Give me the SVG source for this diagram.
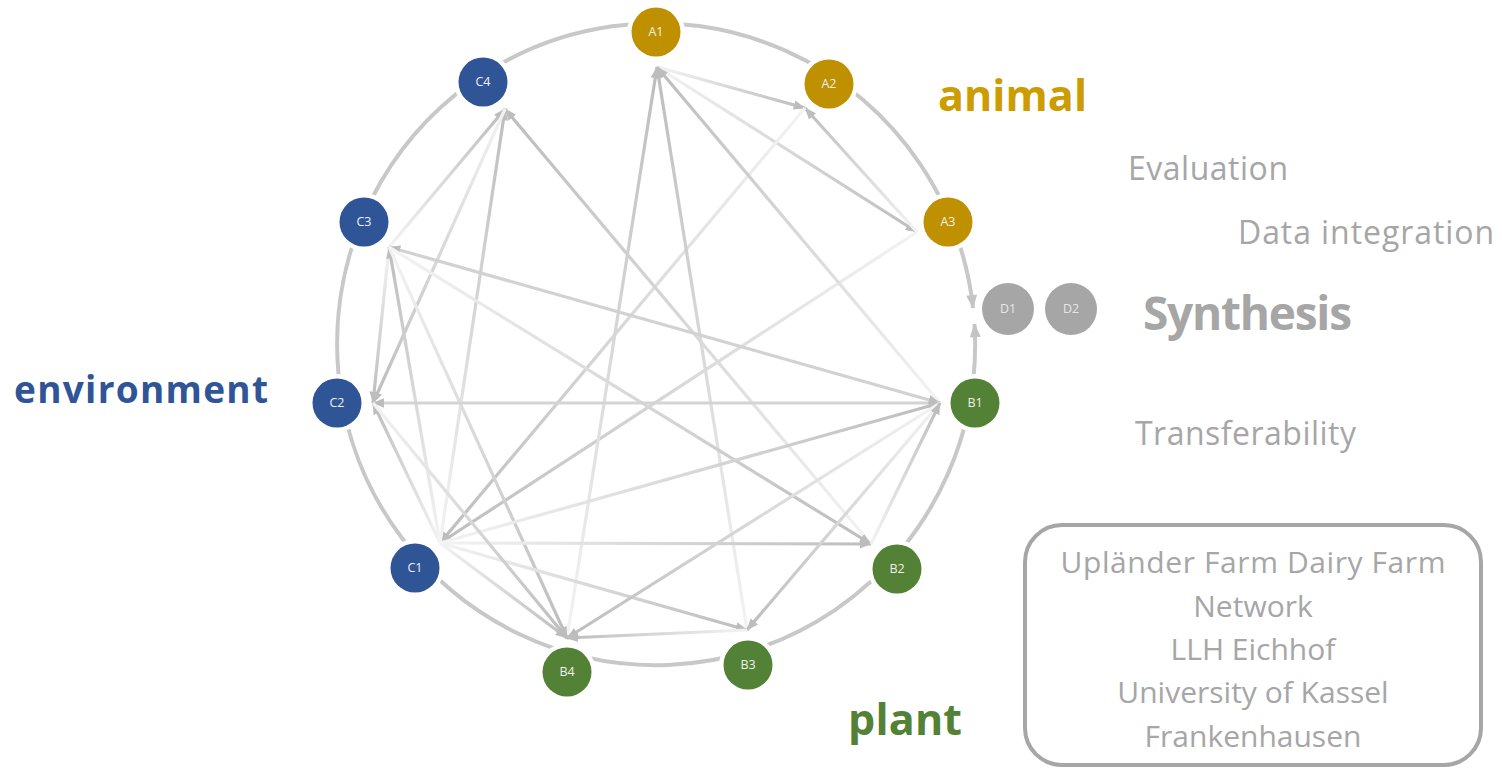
<svg xmlns="http://www.w3.org/2000/svg" width="1502" height="769" viewBox="0 0 1502 769">
<style>
.node text{font-family:"Open Sans","Noto Sans",sans-serif;font-size:12.5px;fill:#f0f0f0;text-anchor:middle}
.halo{fill:#fff}
.gA{fill:#BF9000}.gB{fill:#538135}.gC{fill:#2F5597}.gD{fill:#A6A6A6}
.edge{fill:none;stroke-width:3.2;marker-end:url(#ah)}
.lbl{font-family:"Open Sans","Noto Sans",sans-serif;fill:#A6A6A6}
.big{font-family:"Open Sans","Noto Sans",sans-serif;font-weight:bold}
</style>
<defs>
<marker id="ah" viewBox="0 0 10 8" refX="9.5" refY="4" markerWidth="12" markerHeight="9.5" markerUnits="userSpaceOnUse" orient="auto-start-reverse"><path d="M0,0 L10,4 L0,8 z" fill="#bdbdbd"/></marker>
<marker id="ahArc" viewBox="0 0 10 8" refX="9.5" refY="4" markerWidth="15" markerHeight="11" markerUnits="userSpaceOnUse" orient="auto-start-reverse"><path d="M0,0 L10,4 L0,8 z" fill="#c4c4c4"/></marker>
<linearGradient id="gb"><stop offset="0" stop-color="#f3f3f3"/><stop offset="1" stop-color="#bdbdbd"/></linearGradient>
<linearGradient id="e1" href="#gb" gradientUnits="userSpaceOnUse" x1="657" y1="67" x2="805" y2="108"/>
<linearGradient id="e2" href="#gb" gradientUnits="userSpaceOnUse" x1="657" y1="67" x2="917" y2="232"/>
<linearGradient id="e3" href="#gb" gradientUnits="userSpaceOnUse" x1="917" y1="232" x2="805" y2="108"/>
<linearGradient id="e4" href="#gb" gradientUnits="userSpaceOnUse" x1="805" y1="108" x2="440" y2="543"/>
<linearGradient id="e5" href="#gb" gradientUnits="userSpaceOnUse" x1="917" y1="232" x2="440" y2="543"/>
<linearGradient id="e6" href="#gb" gradientUnits="userSpaceOnUse" x1="567" y1="638" x2="657" y2="67"/>
<linearGradient id="e7" href="#gb" gradientUnits="userSpaceOnUse" x1="747" y1="630" x2="657" y2="67"/>
<linearGradient id="e8" href="#gb" gradientUnits="userSpaceOnUse" x1="940" y1="403" x2="657" y2="67"/>
<linearGradient id="e9" href="#gb" gradientUnits="userSpaceOnUse" x1="389" y1="247" x2="505" y2="109"/>
<linearGradient id="e10" href="#gb" gradientUnits="userSpaceOnUse" x1="440" y1="543" x2="505" y2="109"/>
<linearGradient id="e11" href="#gb" gradientUnits="userSpaceOnUse" x1="871" y1="544" x2="505" y2="109"/>
<linearGradient id="e12" href="#gb" gradientUnits="userSpaceOnUse" x1="505" y1="109" x2="373" y2="403"/>
<linearGradient id="e13" href="#gb" gradientUnits="userSpaceOnUse" x1="389" y1="247" x2="373" y2="403"/>
<linearGradient id="e14" href="#gb" gradientUnits="userSpaceOnUse" x1="440" y1="543" x2="373" y2="403"/>
<linearGradient id="e15" href="#gb" gradientUnits="userSpaceOnUse" x1="440" y1="543" x2="389" y2="247"/>
<linearGradient id="e17" href="#gb" gradientUnits="userSpaceOnUse" x1="389" y1="247" x2="871" y2="544"/>
<linearGradient id="e18" href="#gb" gradientUnits="userSpaceOnUse" x1="389" y1="247" x2="567" y2="638"/>
<linearGradient id="e20" href="#gb" gradientUnits="userSpaceOnUse" x1="440" y1="543" x2="940" y2="403"/>
<linearGradient id="e21" href="#gb" gradientUnits="userSpaceOnUse" x1="440" y1="543" x2="871" y2="544"/>
<linearGradient id="e22" href="#gb" gradientUnits="userSpaceOnUse" x1="440" y1="543" x2="747" y2="630"/>
<linearGradient id="e23" href="#gb" gradientUnits="userSpaceOnUse" x1="440" y1="543" x2="567" y2="638"/>
<linearGradient id="e24" href="#gb" gradientUnits="userSpaceOnUse" x1="373" y1="403" x2="567" y2="638"/>
<linearGradient id="e25" href="#gb" gradientUnits="userSpaceOnUse" x1="940" y1="403" x2="567" y2="638"/>
<linearGradient id="e26" href="#gb" gradientUnits="userSpaceOnUse" x1="940" y1="403" x2="747" y2="630"/>
<linearGradient id="e27" href="#gb" gradientUnits="userSpaceOnUse" x1="871" y1="544" x2="940" y2="403"/>
<linearGradient id="e28" href="#gb" gradientUnits="userSpaceOnUse" x1="747" y1="630" x2="567" y2="638"/>
</defs>
<rect width="1502" height="769" fill="#fff"/>

<g id="ring">
<path d="M 974.5 324 A 319 321 0 1 1 973.1 308" fill="none" stroke="#c8c8c8" stroke-width="4" marker-start="url(#ahArc)" marker-end="url(#ahArc)"/>
</g>

<g id="connectors">
<line class="edge" x1="657" y1="67" x2="805" y2="108" stroke="url(#e1)"/>
<line class="edge" x1="657" y1="67" x2="917" y2="232" stroke="url(#e2)"/>
<line class="edge" x1="917" y1="232" x2="805" y2="108" stroke="url(#e3)"/>
<line class="edge" x1="805" y1="108" x2="440" y2="543" stroke="url(#e4)"/>
<line class="edge" x1="917" y1="232" x2="440" y2="543" stroke="url(#e5)"/>
<line class="edge" x1="567" y1="638" x2="657" y2="67" stroke="url(#e6)"/>
<line class="edge" x1="747" y1="630" x2="657" y2="67" stroke="url(#e7)"/>
<line class="edge" x1="940" y1="403" x2="657" y2="67" stroke="url(#e8)"/>
<line class="edge" x1="389" y1="247" x2="505" y2="109" stroke="url(#e9)"/>
<line class="edge" x1="440" y1="543" x2="505" y2="109" stroke="url(#e10)"/>
<line class="edge" x1="871" y1="544" x2="505" y2="109" stroke="url(#e11)"/>
<line class="edge" x1="505" y1="109" x2="373" y2="403" stroke="url(#e12)"/>
<line class="edge" x1="389" y1="247" x2="373" y2="403" stroke="url(#e13)"/>
<line class="edge" x1="440" y1="543" x2="373" y2="403" stroke="url(#e14)"/>
<line class="edge" x1="440" y1="543" x2="389" y2="247" stroke="url(#e15)"/>
<line class="edge" x1="389" y1="247" x2="940" y2="403" stroke="#d2d2d2" marker-start="url(#ah)"/>
<line class="edge" x1="389" y1="247" x2="871" y2="544" stroke="url(#e17)"/>
<line class="edge" x1="389" y1="247" x2="567" y2="638" stroke="url(#e18)"/>
<line class="edge" x1="373" y1="403" x2="940" y2="403" stroke="#d4d4d4" marker-start="url(#ah)"/>
<line class="edge" x1="440" y1="543" x2="940" y2="403" stroke="url(#e20)"/>
<line class="edge" x1="440" y1="543" x2="871" y2="544" stroke="url(#e21)"/>
<line class="edge" x1="440" y1="543" x2="747" y2="630" stroke="url(#e22)"/>
<line class="edge" x1="440" y1="543" x2="567" y2="638" stroke="url(#e23)"/>
<line class="edge" x1="373" y1="403" x2="567" y2="638" stroke="url(#e24)"/>
<line class="edge" x1="940" y1="403" x2="567" y2="638" stroke="url(#e25)"/>
<line class="edge" x1="940" y1="403" x2="747" y2="630" stroke="url(#e26)"/>
<line class="edge" x1="871" y1="544" x2="940" y2="403" stroke="url(#e27)"/>
<line class="edge" x1="747" y1="630" x2="567" y2="638" stroke="url(#e28)"/>
</g>

<g id="node-A1" class="node"><circle class="halo" cx="656" cy="32" r="29"/><circle class="gA" cx="656" cy="32" r="24.5"/><text x="656" y="36">A1</text></g>
<g id="node-A2" class="node"><circle class="halo" cx="829" cy="84" r="29"/><circle class="gA" cx="829" cy="84" r="24.5"/><text x="829" y="88">A2</text></g>
<g id="node-A3" class="node"><circle class="halo" cx="948" cy="222" r="29"/><circle class="gA" cx="948" cy="222" r="24.5"/><text x="948" y="226">A3</text></g>
<g id="node-B1" class="node"><circle class="halo" cx="975" cy="403" r="29"/><circle class="gB" cx="975" cy="403" r="24.5"/><text x="975" y="407">B1</text></g>
<g id="node-B2" class="node"><circle class="halo" cx="897" cy="569" r="29"/><circle class="gB" cx="897" cy="569" r="24.5"/><text x="897" y="573">B2</text></g>
<g id="node-B3" class="node"><circle class="halo" cx="748" cy="665" r="29"/><circle class="gB" cx="748" cy="665" r="24.5"/><text x="748" y="669">B3</text></g>
<g id="node-B4" class="node"><circle class="halo" cx="567" cy="672" r="29"/><circle class="gB" cx="567" cy="672" r="24.5"/><text x="567" y="676">B4</text></g>
<g id="node-C1" class="node"><circle class="halo" cx="415" cy="568" r="29"/><circle class="gC" cx="415" cy="568" r="24.5"/><text x="415" y="572">C1</text></g>
<g id="node-C2" class="node"><circle class="halo" cx="337" cy="403" r="29"/><circle class="gC" cx="337" cy="403" r="24.5"/><text x="337" y="407">C2</text></g>
<g id="node-C3" class="node"><circle class="halo" cx="364" cy="222" r="29"/><circle class="gC" cx="364" cy="222" r="24.5"/><text x="364" y="226">C3</text></g>
<g id="node-C4" class="node"><circle class="halo" cx="483" cy="82" r="29"/><circle class="gC" cx="483" cy="82" r="24.5"/><text x="483" y="86">C4</text></g>
<g id="node-D1" class="node"><circle class="gD" cx="1008" cy="309" r="26"/><text x="1008" y="313" style="fill:#e6e6e6">D1</text></g>
<g id="node-D2" class="node"><circle class="gD" cx="1071" cy="309" r="26"/><text x="1071" y="313" style="fill:#e6e6e6">D2</text></g>

<g id="labels">
<text class="big" x="938" y="111" font-size="43" fill="#CC9C00" textLength="149">animal</text>
<text class="big" x="14" y="403" font-size="37" fill="#2F5597" textLength="254">environment</text>
<text class="big" x="848" y="735" font-size="43" fill="#538135" textLength="114">plant</text>
<text class="lbl" x="1128" y="180" font-size="32" textLength="160">Evaluation</text>
<text class="lbl" x="1238" y="244" font-size="32" textLength="256">Data integration</text>
<text class="lbl" style="font-weight:bold" x="1143" y="330" font-size="46" textLength="209">Synthesis</text>
<text class="lbl" x="1135" y="445" font-size="32" textLength="221">Transferability</text>
</g>

<g id="partners">
<rect x="1025" y="525" width="456" height="240" rx="37" fill="none" stroke="#A6A6A6" stroke-width="4"/>
<text class="lbl" x="1253" y="573" font-size="30" text-anchor="middle" textLength="385">Upländer Farm Dairy Farm</text>
<text class="lbl" x="1253" y="617" font-size="30" text-anchor="middle">Network</text>
<text class="lbl" x="1253" y="660" font-size="30" text-anchor="middle">LLH Eichhof</text>
<text class="lbl" x="1253" y="703" font-size="30" text-anchor="middle">University of Kassel</text>
<text class="lbl" x="1253" y="747" font-size="30" text-anchor="middle">Frankenhausen</text>
</g>
</svg>
